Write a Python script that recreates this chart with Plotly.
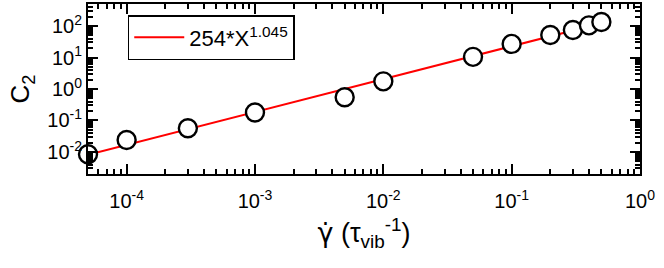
import numpy as np
import plotly.graph_objects as go

# shear rate (tau_vib^-1) and C2
shear_rate = [5e-5, 1e-4, 3e-4, 1e-3, 5e-3, 1e-2, 5e-2, 1e-1, 2e-1, 3e-1, 4e-1, 5e-1]
c2 = [0.0085, 0.024, 0.057, 0.18, 0.55, 1.75, 10.5, 27, 52, 75, 105, 134]

# power law fit: C2 = A * X^b
fit_a = 254
fit_b = 1.045
fit_x = [5e-5, 0.5]

x_ticks = [1e-4, 1e-3, 1e-2, 1e-1, 1]
x_ticktext = ["10<sup>-4</sup>", "10<sup>-3</sup>", "10<sup>-2</sup>", "10<sup>-1</sup>", "10<sup>0</sup>"]
y_ticks = [1e-2, 1e-1, 1, 10, 100]
y_ticktext = ["10<sup>-2</sup>", "10<sup>-1</sup>", "10<sup>0</sup>", "10<sup>1</sup>", "10<sup>2</sup>"]

def minor_vals(lo, hi):
    return [m * 10.0 ** e for e in range(lo, hi) for m in range(2, 10)]

fit_y = [fit_a * x ** fit_b for x in fit_x]

fig = go.Figure()
fig.add_trace(go.Scatter(
    x=fit_x, y=fit_y, mode="lines",
    line=dict(color="#ff0000", width=2),
    name="254*X<sup>1.045</sup>",
))
fig.add_trace(go.Scatter(
    x=shear_rate, y=c2, mode="markers",
    marker=dict(symbol="circle", size=18, color="white",
                line=dict(color="black", width=2.4)),
    showlegend=False, cliponaxis=False,
))

axis_common = dict(
    type="log", showgrid=False, zeroline=False, automargin=False,
    showline=True, linecolor="black", linewidth=2, mirror="allticks",
    ticks="inside", ticklen=10, tickwidth=1.5, tickcolor="black",
    tickfont=dict(family="Liberation Sans, Arial", size=20, color="black"),
    tickmode="array",
)

fig.update_layout(
    width=664, height=268,
    margin=dict(l=88, r=24, t=4, b=94),
    paper_bgcolor="white", plot_bgcolor="white",
    font=dict(family="Liberation Sans, Arial", color="black"),
    xaxis=dict(
        **axis_common,
        range=[np.log10(5e-5), 0],
        tickvals=x_ticks, ticktext=x_ticktext, ticklabelstandoff=8,
        minor=dict(tickmode="array", tickvals=minor_vals(-5, 0),
                   ticks="inside", ticklen=5, tickwidth=1.5, tickcolor="black"),
        title=dict(text="<span style='font-family:DejaVu Sans'>γ\u0307</span> (τ<sub>vib</sub><sup>-1</sup>)",
                   font=dict(size=27), standoff=12),
    ),
    yaxis=dict(
        **axis_common,
        range=[np.log10(0.002), np.log10(500)],
        tickvals=y_ticks, ticktext=y_ticktext,
        minor=dict(tickmode="array", tickvals=minor_vals(-3, 3),
                   ticks="inside", ticklen=5, tickwidth=1.5, tickcolor="black"),
        title=dict(text="C<sub>2</sub>", font=dict(size=26), standoff=10),
    ),
    legend=dict(
        x=0.072, y=0.935, xanchor="left", yanchor="top",
        bordercolor="black", borderwidth=1.5, bgcolor="white",
        font=dict(size=22), itemwidth=50,
    ),
)

fig.write_html("out.html", config={"displayModeBar": False},
               post_script="document.body.style.margin='0';")
